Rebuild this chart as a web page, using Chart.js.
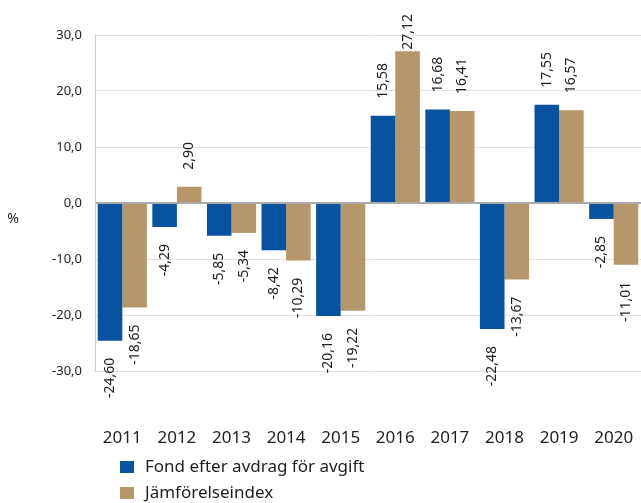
<!DOCTYPE html>
<html>
<head>
<meta charset="utf-8">
<script src="https://cdn.jsdelivr.net/npm/chart.js@4"></script>
<style>
  html, body { margin: 0; padding: 0; background: #fff; }
  #wrap { width: 641px; height: 503px; position: relative; }
</style>
</head>
<body>
<div id="wrap"><canvas id="myChart"></canvas></div>
<script>
const years = ['2011', '2012', '2013', '2014', '2015', '2016', '2017', '2018', '2019', '2020'];
const fond = [-24.60, -4.29, -5.85, -8.42, -20.16, 15.58, 16.68, -22.48, 17.55, -2.85];
const jamfor = [-18.65, 2.90, -5.34, -10.29, -19.22, 27.12, 16.41, -13.67, 16.57, -11.01];
const seriesNames = ['Fond efter avdrag för avgift', 'Jämförelseindex'];
const seriesColors = ['#07539f', '#b6976b'];

const FONT = '"Noto Sans", sans-serif';
const fmt = (v, d) => v.toFixed(d).replace('.', ',');

// values written vertically above/below each bar
const barLabels = {
  id: 'barLabels',
  afterDatasetsDraw(chart) {
    const ctx = chart.ctx;
    ctx.save();
    ctx.font = '14px ' + FONT;
    ctx.fillStyle = '#1e1e1e';
    ctx.textBaseline = 'middle';
    chart.data.datasets.forEach((ds, i) => {
      chart.getDatasetMeta(i).data.forEach((bar, j) => {
        const v = ds.data[j];
        const txt = fmt(v, 2);
        const w = ctx.measureText(txt).width;
        ctx.save();
        if (v >= 0) {
          let start = bar.y - 17;
          if (start - w < 14) start = 14 + w;
          ctx.translate(bar.x, start);
          ctx.rotate(-Math.PI / 2);
          ctx.textAlign = 'left';
        } else {
          ctx.translate(bar.x, bar.y + 17);
          ctx.rotate(-Math.PI / 2);
          ctx.textAlign = 'right';
        }
        ctx.fillText(txt, 0, 0);
        ctx.restore();
      });
    });
    ctx.restore();
  }
};

// "%" unit and the stacked legend at the bottom
const extras = {
  id: 'extras',
  afterDraw(chart) {
    const ctx = chart.ctx;
    ctx.save();
    ctx.fillStyle = '#1e1e1e';
    ctx.font = '14px ' + FONT;
    ctx.textAlign = 'center';
    ctx.textBaseline = 'middle';
    ctx.fillText('%', 13, 219);

    ctx.font = '17px ' + FONT;
    ctx.textAlign = 'left';
    chart.data.datasets.forEach((ds, i) => {
      const cy = 467 + i * 26;
      ctx.fillStyle = ds.backgroundColor;
      ctx.fillRect(120, cy - 6, 14, 12);
      ctx.fillStyle = '#1e1e1e';
      ctx.fillText(ds.label, 145, cy);
    });
    ctx.restore();
  }
};

new Chart(document.getElementById('myChart'), {
  type: 'bar',
  data: {
    labels: years,
    datasets: [{
      label: seriesNames[0],
      data: fond,
      backgroundColor: seriesColors[0]
    }, {
      label: seriesNames[1],
      data: jamfor,
      backgroundColor: seriesColors[1]
    }]
  },
  options: {
    responsive: true,
    maintainAspectRatio: false,
    animation: false,
    datasets: {
      bar: { categoryPercentage: 0.9, barPercentage: 1.0 }
    },
    layout: { padding: { top: 35, right: 0, bottom: 52, left: 0 } },
    plugins: {
      legend: { display: false },
      tooltip: { enabled: false }
    },
    scales: {
      x: {
        // invisible tick marks push the year labels down below the bar values
        grid: {
          display: true,
          drawOnChartArea: false,
          drawTicks: true,
          tickLength: 54,
          tickColor: 'rgba(0,0,0,0)'
        },
        border: { display: false },
        ticks: {
          color: '#1e1e1e',
          font: { family: FONT, size: 17 },
          padding: 3,
          maxRotation: 0
        },
        afterFit(scale) { scale.height = 80; }
      },
      y: {
        min: -30,
        max: 30,
        border: { display: true, color: '#cccccc' },
        grid: {
          drawTicks: false,
          color: ctx => ctx.tick.value === 0 ? '#aaaaaa' : '#e2e2e2',
          lineWidth: ctx => ctx.tick.value === 0 ? 2 : 1
        },
        ticks: {
          stepSize: 10,
          color: '#1e1e1e',
          font: { family: FONT, size: 13 },
          padding: 13,
          callback: v => fmt(v, 1)
        },
        afterFit(scale) { scale.width = 95; }
      }
    }
  },
  plugins: [barLabels, extras]
});
</script>
</body>
</html>
